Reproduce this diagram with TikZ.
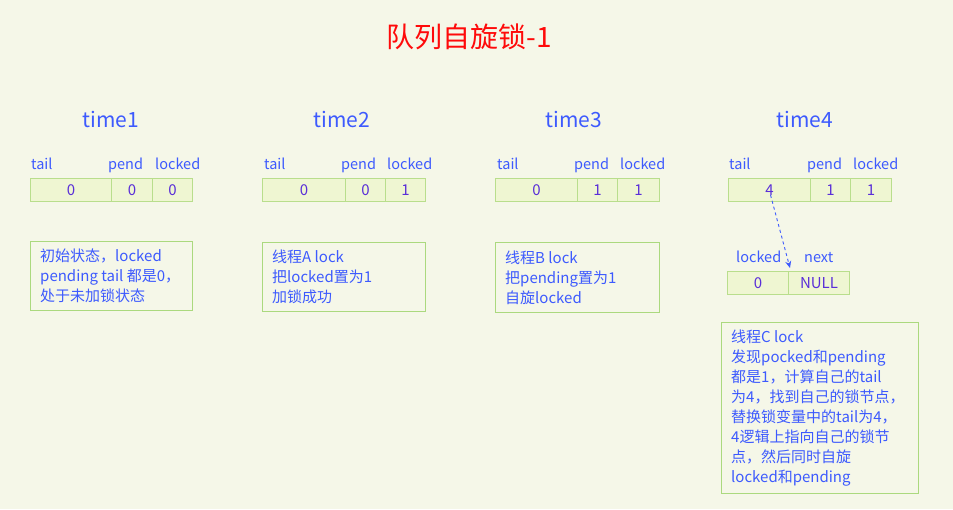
\documentclass[tikz,border=0pt]{standalone}
\usepackage{fontspec}
\setmainfont{Noto Sans CJK SC}
\usetikzlibrary{arrows.meta,calc}
\definecolor{bg}{HTML}{F5F7E8}
\definecolor{cellfill}{HTML}{EFF6D2}
\definecolor{cellline}{HTML}{B9DE8C}
\definecolor{boxline}{HTML}{ABD97E}
\definecolor{lbl}{HTML}{3D5AFE}
\definecolor{num}{HTML}{5A2FD8}
\definecolor{titlered}{HTML}{FF0A0A}
\tikzset{
  cell/.style={draw=cellline, fill=cellfill, line width=1.1pt, minimum height=23pt,
    inner sep=0pt, text=num, font=\fontsize{15}{18}\selectfont, anchor=north west},
  lab/.style={text=lbl, inner sep=0pt, anchor=base west, font=\fontsize{14.5}{17}\selectfont},
  timelab/.style={text=lbl, inner sep=0pt, anchor=base, font=\fontsize{21}{24}\selectfont},
  notebox/.style={draw=boxline, line width=1.1pt, inner sep=0pt, anchor=north west},
  notetext/.style={text=lbl, inner sep=0pt, anchor=west, align=left, font=\fontsize{15}{20}\selectfont},
}
\begin{document}
\begin{tikzpicture}[x=1pt,y=-1pt]
\useasboundingbox (0,0) rectangle (953,509);
\fill[bg] (0,0) rectangle (953,509);

\node[text=titlered, font=\fontsize{28}{32}\selectfont, inner sep=0pt] (title) at (469,37) {队列自旋锁-1};

% time1
\node[timelab] (h1) at (111,127) {time1};
\node[lab] (l1a) at (31,169) {tail};
\node[lab] (l1b) at (108,169) {pend};
\node[lab] (l1c) at (155,169) {locked};
\node[cell, minimum width=81pt] (t1tail) at (30,178) {0};
\node[cell, minimum width=41pt] (t1pend) at (111,178) {0};
\node[cell, minimum width=40pt] (t1lock) at (152,178) {0};
\node[notebox, minimum width=162pt, minimum height=69pt] (b1) at (30,241) {};
\node[notetext] (b1t) at ($(b1.west)+(10,0)$) {初始状态，locked\\pending tail 都是0，\\处于未加锁状态};

% time2
\node[timelab] (h2) at (342,127) {time2};
\node[lab] (l2a) at (264,169) {tail};
\node[lab] (l2b) at (341,169) {pend};
\node[lab] (l2c) at (387,169) {locked};
\node[cell, minimum width=83pt] (t2tail) at (262,178) {0};
\node[cell, minimum width=40pt] (t2pend) at (345,178) {0};
\node[cell, minimum width=40pt] (t2lock) at (385,178) {1};
\node[notebox, minimum width=163pt, minimum height=69pt] (b2) at (262,242) {};
\node[notetext] (b2t) at ($(b2.west)+(10,0)$) {线程A lock\\把locked置为1\\加锁成功};

% time3
\node[timelab] (h3) at (574,127) {time3};
\node[lab] (l3a) at (497,169) {tail};
\node[lab] (l3b) at (574,169) {pend};
\node[lab] (l3c) at (620,169) {locked};
\node[cell, minimum width=82pt] (t3tail) at (495,178) {0};
\node[cell, minimum width=40pt] (t3pend) at (577,178) {1};
\node[cell, minimum width=42pt] (t3lock) at (617,178) {1};
\node[notebox, minimum width=164pt, minimum height=70pt] (b3) at (495,242) {};
\node[notetext] (b3t) at ($(b3.west)+(10,0)$) {线程B lock\\把pending置为1\\自旋locked};

% time4
\node[timelab] (h4) at (805,127) {time4};
\node[lab] (l4a) at (729,169) {tail};
\node[lab] (l4b) at (807,169) {pend};
\node[lab] (l4c) at (853,169) {locked};
\node[cell, minimum width=82pt] (t4tail) at (728,178) {4};
\node[cell, minimum width=40pt] (t4pend) at (810,178) {1};
\node[cell, minimum width=41pt] (t4lock) at (850,178) {1};

\node[lab] (n4la) at (736,262) {locked};
\node[lab] (n4lb) at (804,262) {next};
\node[cell, minimum width=61pt] (n4lock) at (727,271) {0};
\node[cell, minimum width=61pt] (n4next) at (788,271) {NULL};

\coordinate (arrowend) at ($(n4next.north west)+(2,-3)$);
\draw[lbl, dashed, line width=0.9pt, -{Stealth[length=7pt,width=6pt]}]
  ($(t4tail.center)+(1,5)$) -- (arrowend);

\node[notebox, minimum width=197pt, minimum height=171pt] (b4) at (721,322) {};
\node[notetext] (b4t) at ($(b4.west)+(10,0)$) {线程C lock\\发现pocked和pending\\都是1，计算自己的tail\\为4，找到自己的锁节点，\\替换锁变量中的tail为4，\\4逻辑上指向自己的锁节\\点，然后同时自旋\\locked和pending};
\end{tikzpicture}
\end{document}
